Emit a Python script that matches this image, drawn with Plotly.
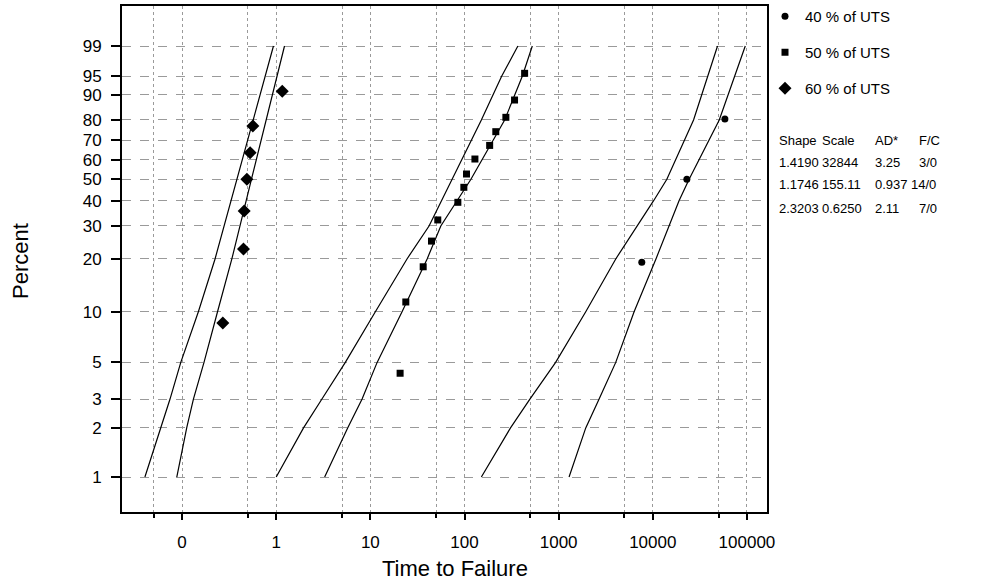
import numpy as np
import plotly.graph_objects as go

# ---------------- data ----------------
# failure points
time40 = [7640, 23000, 58300]
pct40 = [19.2, 50.0, 80.4]

time50 = [20.7, 23.8, 36.4, 44.6, 52, 85, 98.4, 105, 129, 185, 215, 275, 340, 435]
pct50 = [4.3, 11.4, 18.1, 25.0, 32.2, 39.3, 46.1, 52.6, 60.3, 67.4, 74.4, 81.2, 88.2, 95.6]

time60 = [0.271, 0.449, 0.457, 0.488, 0.528, 0.565, 1.16]
pct60 = [8.6, 22.7, 35.7, 50.0, 63.6, 77.2, 91.1]

# confidence-bound curves
bound_pct_60 = [1, 2, 3, 5, 10, 20, 50, 80, 99]
lo60 = [0.0403, 0.0593, 0.0745, 0.0969, 0.149, 0.224, 0.385, 0.569, 0.935]
hi60 = [0.0879, 0.112, 0.132, 0.171, 0.238, 0.338, 0.546, 0.783, 1.225]

bound_pct_50 = [1, 2, 3, 5, 10, 20, 30, 50, 80, 95, 99]
lo50 = [1.0, 1.95, 3.06, 5.42, 11.3, 24.5, 42, 74, 151, 248, 369]
hi50 = [3.27, 5.74, 8.17, 11.8, 21.7, 40.1, 56, 117, 267, 411, 525]

bound_pct_40 = [1, 2, 3, 5, 10, 20, 40, 50, 80, 95, 99]
lo40 = [151, 308, 495, 929, 1940, 4040, 10200, 14100, 27100, 38200, 48700]
hi40 = [1290, 1940, 2690, 4040, 6330, 10800, 19000, 24300, 50800, 73300, 96000]

series_names = ["40 % of UTS", "50 % of UTS", "60 % of UTS"]

# table
table_header = ["Shape", "Scale", "AD*", "F/C"]
table_rows = [
    ["1.4190", "32844", "3.25", "3/0"],
    ["1.1746", "155.11", "0.937", "14/0"],
    ["2.3203", "0.6250", "2.11", "7/0"],
]

# axis ticks
y_ticks = [1, 2, 3, 5, 10, 20, 30, 40, 50, 60, 70, 80, 90, 95, 99]
x_ticks = [0.1, 1, 10, 100, 1000, 10000, 100000]
x_ticktext = ["0", "1", "10", "100", "1000", "10000", "100000"]
x_minor = [0.05, 0.5, 5, 50, 500, 5000, 50000]


def wb(p):
    """Weibull probability scale: ln(-ln(1-p))."""
    return np.log(-np.log(1 - np.asarray(p, dtype=float) / 100.0))


# ---------------- layout geometry ----------------
W, H = 1004, 583
L, R, T, B = 122, 767, 6, 512


def px(x):
    return (x - L) / (R - L)


def py(y):
    return (B - y) / (B - T)


FONT = "Liberation Sans, Arial, sans-serif"

fig = go.Figure()

line_style = dict(color="black", width=1.2)
for t, p in [(lo60, bound_pct_60), (hi60, bound_pct_60),
             (lo50, bound_pct_50), (hi50, bound_pct_50),
             (lo40, bound_pct_40), (hi40, bound_pct_40)]:
    fig.add_trace(go.Scatter(x=t, y=wb(p), mode="lines", line=line_style,
                             showlegend=False, hoverinfo="skip"))

fig.add_trace(go.Scatter(x=time40, y=wb(pct40), mode="markers", name=series_names[0],
                         legendgroup="a",
                         marker=dict(symbol="circle", size=7, color="black")))
fig.add_trace(go.Scatter(x=time50, y=wb(pct50), mode="markers", name=series_names[1],
                         legendgroup="b",
                         marker=dict(symbol="square", size=7, color="black")))
fig.add_trace(go.Scatter(x=time60, y=wb(pct60), mode="markers", name=series_names[2],
                         legendgroup="c",
                         marker=dict(symbol="diamond", size=10, color="black")))

grid_col = "#9a9a9a"
fig.update_xaxes(
    type="log", range=[-1.638, 5.213],
    tickvals=x_ticks, ticktext=x_ticktext,
    ticks="outside", ticklen=6, tickwidth=1.5, tickcolor="black",
    showline=True, linecolor="black", linewidth=2, mirror=True,
    showgrid=True, gridcolor=grid_col, griddash="dot", gridwidth=1,
    minor=dict(tickvals=x_minor, ticks="outside", ticklen=4, tickcolor="black",
               showgrid=True, gridcolor=grid_col, griddash="dot", gridwidth=1),
    tickfont=dict(family=FONT, size=17, color="black"),
    ticklabelstandoff=8, zeroline=False,
)
fig.update_yaxes(
    range=[-5.097, 2.096],
    tickvals=list(wb(y_ticks)), ticktext=[str(v) for v in y_ticks],
    ticks="outside", ticklen=9, tickwidth=1.5, tickcolor="black",
    showline=True, linecolor="black", linewidth=2, mirror=True,
    showgrid=True, gridcolor=grid_col, griddash="dash", gridwidth=1,
    tickfont=dict(family=FONT, size=17, color="black"),
    ticklabelstandoff=6, zeroline=False,
)

annotations = [
    dict(text="Time to Failure", x=px(455), y=py(568), xref="paper", yref="paper",
         showarrow=False, font=dict(family=FONT, size=22, color="black"),
         xanchor="center", yanchor="middle"),
    dict(text="Percent", x=px(20), y=py(261), xref="paper", yref="paper",
         showarrow=False, textangle=-90, font=dict(family=FONT, size=22, color="black"),
         xanchor="center", yanchor="middle"),
]
col_x = [777, 820, 873, 917]
row_y = [140, 162, 185, 208]
for j, h in enumerate(table_header):
    annotations.append(dict(text=h, x=px(col_x[j]), y=py(row_y[0]), xref="paper", yref="paper",
                            showarrow=False, xanchor="left", yanchor="middle",
                            font=dict(family=FONT, size=13, color="black")))
for i, row in enumerate(table_rows):
    for j, v in enumerate(row):
        xpos = col_x[j]
        if j == 3 and len(row[2]) > 4:
            xpos = col_x[j] - 8
        annotations.append(dict(text=v, x=px(xpos), y=py(row_y[i + 1]), xref="paper",
                                yref="paper", showarrow=False, xanchor="left",
                                yanchor="middle",
                                font=dict(family=FONT, size=13, color="black")))

fig.update_layout(
    width=W, height=H,
    margin=dict(l=L, r=W - R, t=T, b=H - B, autoexpand=False),
    plot_bgcolor="white", paper_bgcolor="white",
    showlegend=True,
    legend=dict(x=px(765), y=py(0), xanchor="left", yanchor="top",
                font=dict(family=FONT, size=15, color="black"),
                bgcolor="rgba(0,0,0,0)", tracegroupgap=13.5, itemwidth=30),
    annotations=annotations,
)

fig.write_html("out.html", config={"displayModeBar": False},
               post_script="document.body.style.margin='0px';")
